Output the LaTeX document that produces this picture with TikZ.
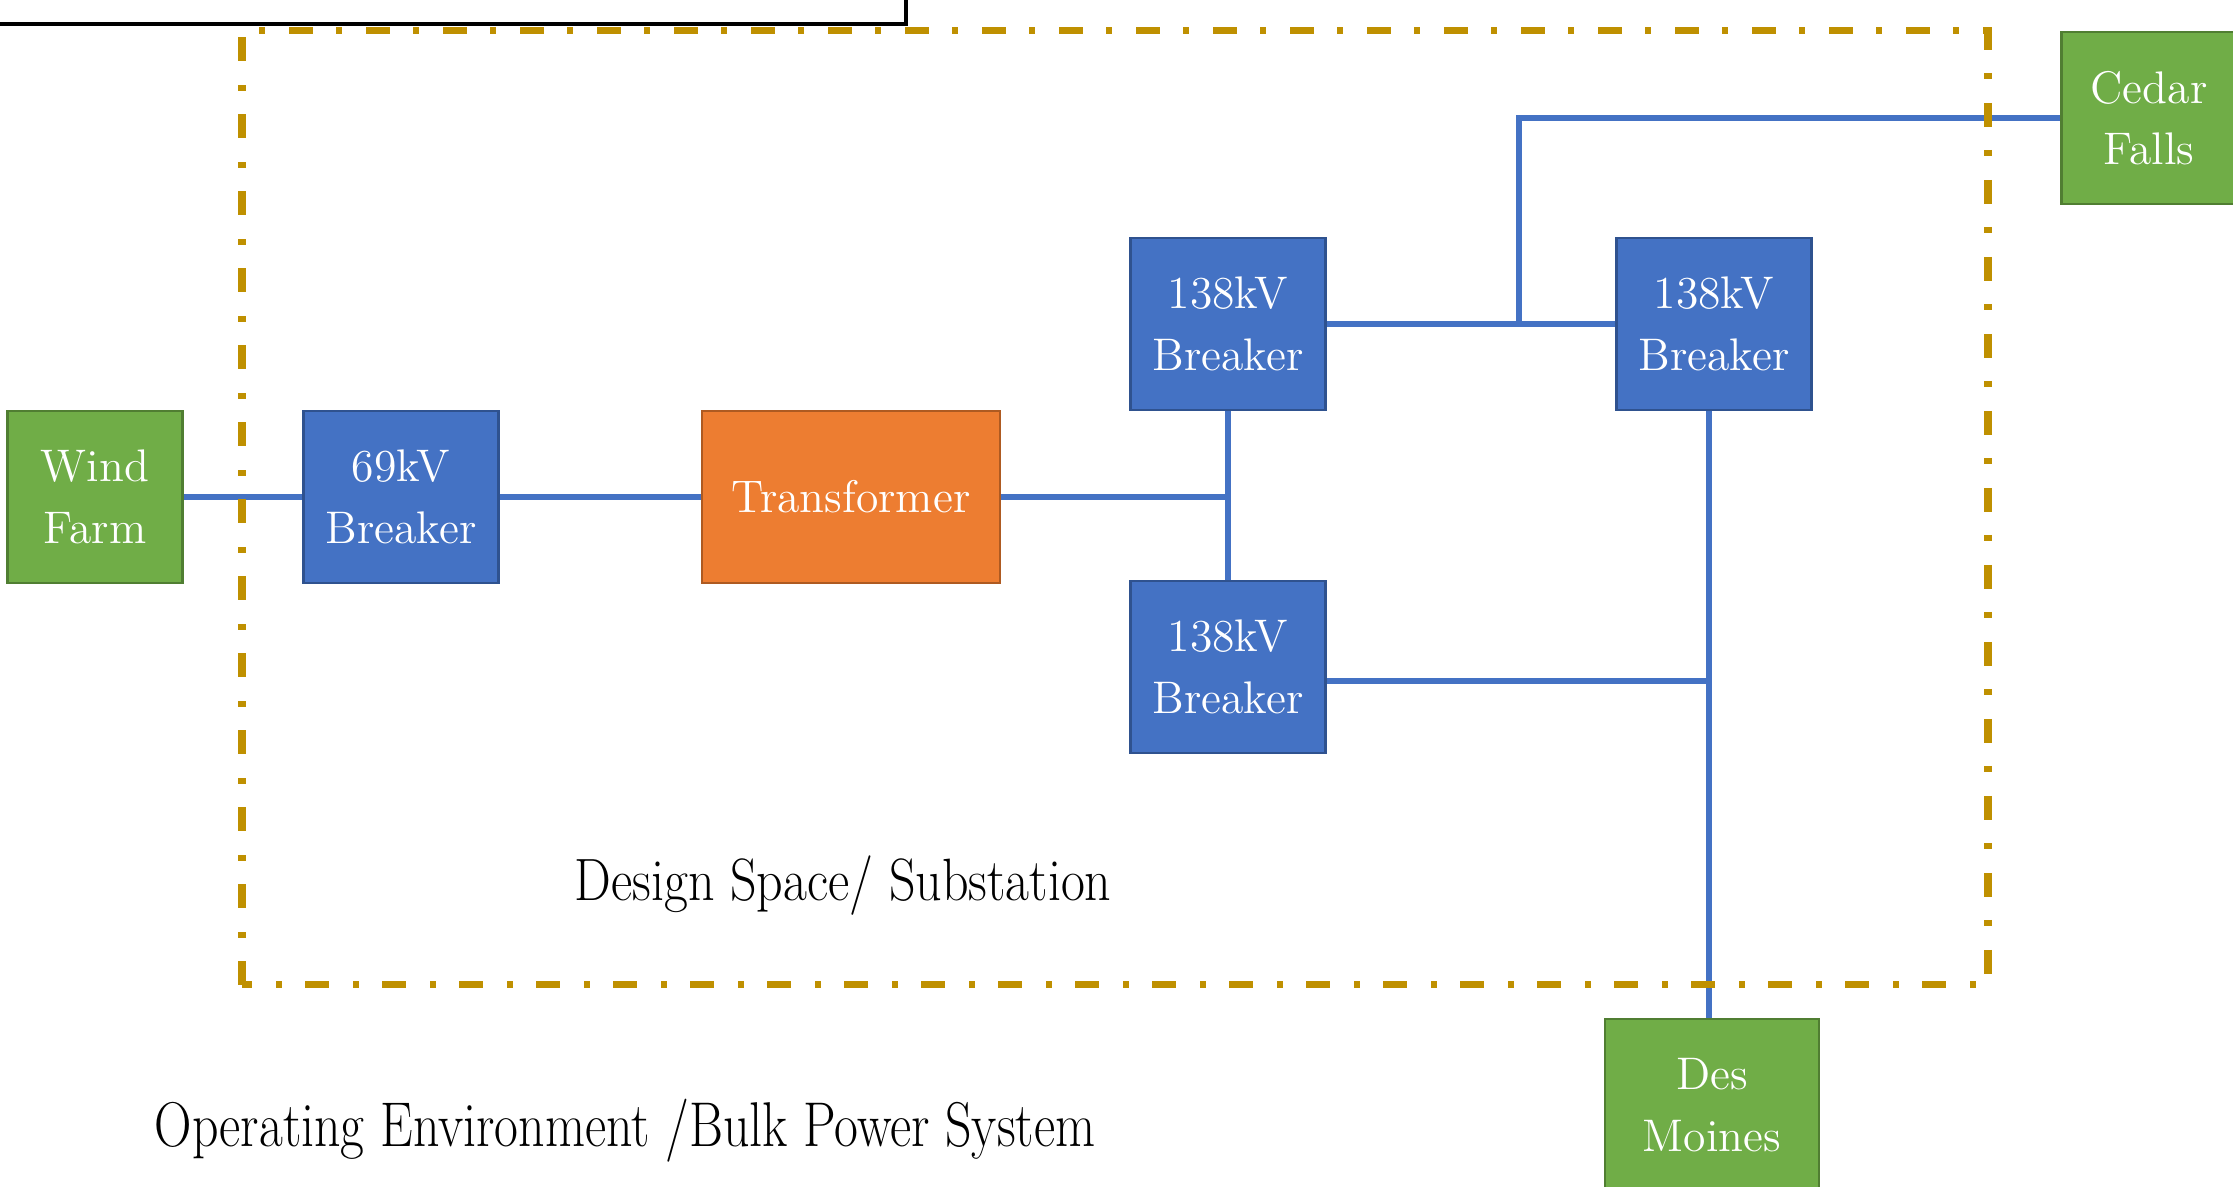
\documentclass[tikz,border=0pt]{standalone}
\usepackage{graphicx}
\definecolor{gridgreen}{HTML}{70AD47}
\definecolor{gridedge}{HTML}{507E32}
\definecolor{brkblue}{HTML}{4472C4}
\definecolor{brkedge}{HTML}{2F528F}
\definecolor{xfmrorange}{HTML}{ED7D31}
\definecolor{xfmredge}{HTML}{AE5A21}
\definecolor{zonegold}{HTML}{BF9000}
\tikzset{
	box/.style={rectangle, minimum width=1.95cm, minimum height=1.72cm, inner sep=0pt,
		align=center, text=white, line width=0.8pt, font=\fontsize{13}{17.5}\selectfont},
	breaker/.style={box, fill=brkblue, draw=brkedge},
	grid/.style={box, fill=gridgreen, draw=gridedge, minimum width=1.75cm},
	xfmr/.style={box, fill=xfmrorange, draw=xfmredge, minimum width=2.98cm},
	bus/.style={line width=1.7pt, draw=brkblue},
	zone/.style={line width=2pt, draw=zonegold, dash pattern=on 0.24cm off 0.23cm on 0.06cm off 0.24cm}
}
\begin{document}
\begin{tikzpicture}
	\useasboundingbox (0,0) rectangle (22.33,11.87);
	\clip (0,0) rectangle (22.33,11.87);
	
	% box at the top edge
	\draw[line width=1pt] (-0.5,12.5) rectangle (9.06,11.63);
	
	\node[grid] (wind) at (0.95,6.90) {Wind\\Farm};
	\node[breaker] (b69) at (4.01,6.90) {69kV\\Breaker};
	\node[xfmr] (xfmr) at (8.51,6.90) {Transformer};
	\node[breaker] (b138a) at (12.28,8.63) {138kV\\Breaker};
	\node[breaker] (b138b) at (12.28,5.20) {138kV\\Breaker};
	\node[breaker] (b138c) at (17.14,8.63) {138kV\\Breaker};
	\node[grid] (cedar) at (21.49,10.69) {Cedar\\Falls};
	\node[grid, minimum width=2.14cm] (desm) at (17.12,0.82) {Des\\Moines};
	
	\coordinate (cftap) at (15.19,10.69);
	\coordinate (dmtap) at (17.09,5.06);
	
	% buses
	\draw[bus] (wind) -- (b69);
	\draw[bus] (b69) -- (xfmr);
	\draw[bus] (xfmr.east) -- (b138a.south |- xfmr.east);
	\draw[bus] (b138a.south) -- (b138b.north);
	\draw[bus] (b138a.east) -- (b138c.west);
	\draw[bus] (cftap |- b138a.east) -- (cftap) -- (cedar.west);
	\draw[bus] (b138b.east |- dmtap) -- (dmtap);
	\draw[bus] (b138c.south -| dmtap) -- (desm.north -| dmtap);
	
	% substation boundary
	\draw[zone] (2.42,2.02) rectangle (19.88,11.56);
	
	\node[anchor=base west, inner sep=0pt] (dspace) at (5.74,2.86)
		{\fontsize{17}{20}\selectfont\scalebox{0.87}[1]{Design Space/ Substation}};
	\node[anchor=base west, inner sep=0pt] (openv) at (1.54,0.40)
		{\fontsize{18}{21}\selectfont\scalebox{0.82}[1]{Operating Environment /Bulk Power System}};
\end{tikzpicture}
\end{document}
